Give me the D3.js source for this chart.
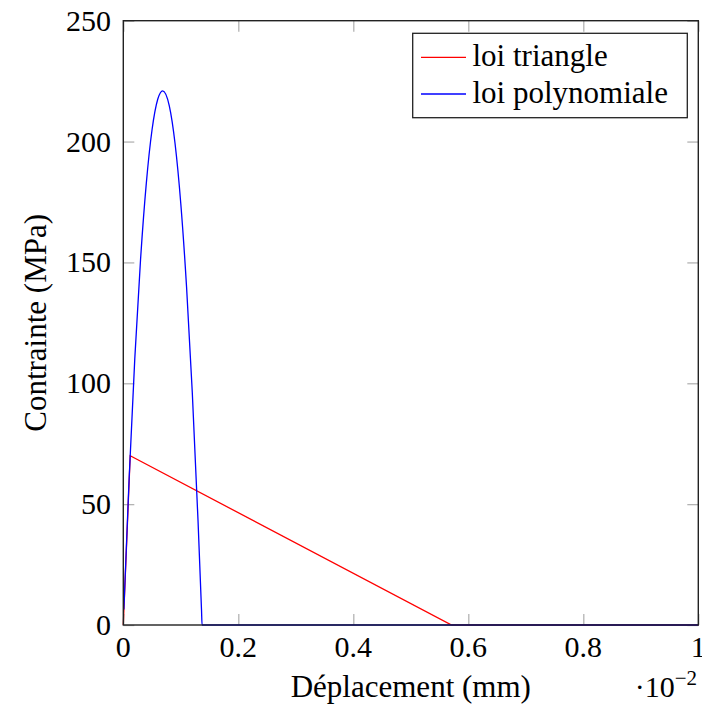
<!DOCTYPE html>
<html><head><meta charset="utf-8">
<script src="https://cdn.jsdelivr.net/npm/d3@7"></script>
<style>body{margin:0;background:#fff} svg text{font-family:"Liberation Serif","Times New Roman",serif;}</style>
</head><body>
<svg id="c" width="702" height="706"></svg>
<script>
const xTicks = [0, 0.2, 0.4, 0.6, 0.8, 1];
const yTicks = [0, 50, 100, 150, 200, 250];
const seriesNames = ["loi triangle", "loi polynomiale"];
const seriesColors = ["#ff0000", "#0000ff"];
const triangleX = [0, 0.012, 0.571, 1];
const triangleY = [0, 70, 0, 0];
const polyX = [0.001, 0.01, 0.02, 0.03, 0.04, 0.05, 0.06, 0.0685, 0.08, 0.09, 0.10, 0.11, 0.12, 0.13, 0.136, 0.137, 1];
const polyY = [6.4, 59.9, 110.3, 151.2, 182.7, 204.9, 217.6, 221, 214.8, 199.2, 174.3, 139.9, 96.1, 42.9, 6.4, 0, 0];

const svg = d3.select("#c");
const L = 123.3, R = 698.3, T = 20.7, B = 625;
const x = d3.scaleLinear().domain([0, 1]).range([L, R]);
const y = d3.scaleLinear().domain([0, 250]).range([B, T]);
const tickLen = 11;
const tickColor = "#b3b3b3";

const g = svg.append("g");
const tickStyle = sel => sel.selectAll("line").attr("stroke", tickColor).attr("stroke-width", 1.3);
const axB = g.append("g").attr("transform", `translate(0,${B})`)
  .call(d3.axisTop(x).tickValues(xTicks).tickSize(tickLen).tickFormat(""));
const axT = g.append("g").attr("transform", `translate(0,${T})`)
  .call(d3.axisBottom(x).tickValues(xTicks).tickSize(tickLen).tickFormat(""));
const axL = g.append("g").attr("transform", `translate(${L},0)`)
  .call(d3.axisRight(y).tickValues(yTicks).tickSize(tickLen).tickFormat(""));
const axR = g.append("g").attr("transform", `translate(${R},0)`)
  .call(d3.axisLeft(y).tickValues(yTicks).tickSize(tickLen).tickFormat(""));
[axB, axT, axL, axR].forEach(a => { a.select(".domain").remove(); a.selectAll("text").remove(); tickStyle(a); });

g.selectAll("text.xt").data(xTicks).enter().append("text")
  .attr("x", d => x(d)).attr("y", 657).attr("text-anchor", "middle")
  .attr("font-size", 30).text(d => d3.format("")(d));
g.selectAll("text.yt").data(yTicks).enter().append("text")
  .attr("x", 111).attr("y", d => y(d) + 10).attr("text-anchor", "end")
  .attr("font-size", 30).text(d => d);

const line = d3.line().x(d => x(d[0])).y(d => y(d[1]));
const triData = triangleX.map((v, i) => [v, triangleY[i]]);
const polyData = polyX.map((v, i) => [v, polyY[i]]);
g.append("path").datum(triData).attr("d", line).attr("fill", "none")
  .attr("stroke", seriesColors[0]).attr("stroke-width", 1.3);
g.append("path").datum(polyData).attr("d", line.curve(d3.curveMonotoneX)).attr("fill", "none")
  .attr("stroke", seriesColors[1]).attr("stroke-width", 1.3);

g.append("rect").attr("x", L).attr("y", T).attr("width", R - L).attr("height", B - T)
  .attr("fill", "none").attr("stroke", "#222").attr("stroke-width", 1.4);

g.append("text").attr("x", x(0.5)).attr("y", 697).attr("text-anchor", "middle")
  .attr("font-size", 31).text("Déplacement (mm)");
const sc = g.append("text").attr("x", 697).attr("y", 697).attr("text-anchor", "end")
  .attr("font-size", 30);
sc.append("tspan").text("·10");
sc.append("tspan").attr("dy", -12).attr("font-size", 21).text("−2");
g.append("text").attr("transform", `translate(46,${(T + B) / 2}) rotate(-90)`)
  .attr("text-anchor", "middle").attr("font-size", 31)
  .text("Contrainte (MPa)");

const lg = g.append("g");
lg.append("rect").attr("x", 412.7).attr("y", 33.3).attr("width", 274.6).attr("height", 84.4)
  .attr("fill", "#fff").attr("stroke", "#222").attr("stroke-width", 1.3);
seriesNames.forEach((n, i) => {
  const yy = 57.3 + i * 36.7;
  lg.append("line").attr("x1", 421).attr("x2", 466).attr("y1", yy).attr("y2", yy)
    .attr("stroke", seriesColors[i]).attr("stroke-width", 1.3);
  lg.append("text").attr("x", 472.5).attr("y", yy + 9)
    .attr("font-size", 31).text(n);
});
</script>
</body></html>
